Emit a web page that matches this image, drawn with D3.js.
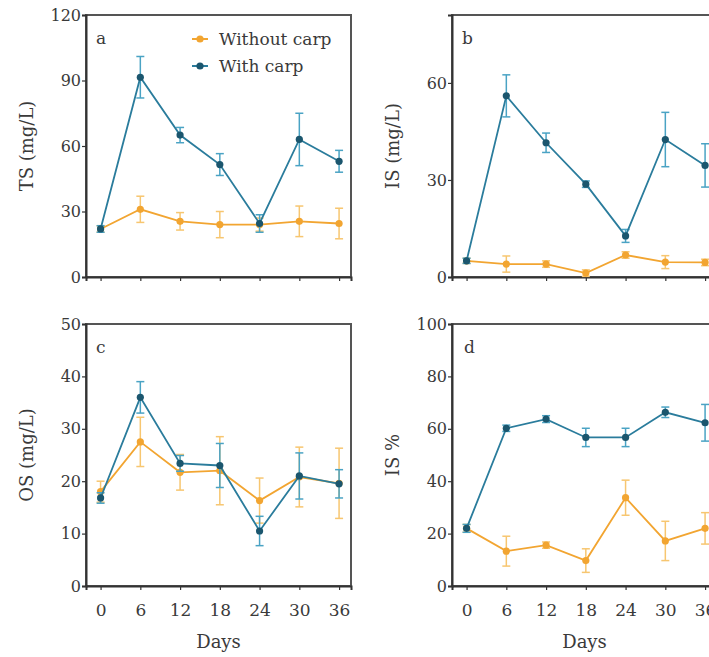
<!DOCTYPE html>
<html>
<head>
<meta charset="utf-8">
<script src="https://cdn.jsdelivr.net/npm/d3@7"></script>
<style>
  body { margin: 0; background: #fff; }
  svg text { font-family: "DejaVu Serif", "Liberation Serif", serif; fill: #3a3a3a; }
</style>
</head>
<body>
<svg width="709" height="657"></svg>
<script>
// sampling days
const days = [0, 6, 12, 18, 24, 30, 36];

// panel a: TS (mg/L)
const tsWithout = [22, 31, 25.5, 24, 24, 25.5, 24.5];
const tsWithoutErr = [1.5, 6, 4, 6, 3, 7, 7];
const tsWith = [22, 91.5, 65, 51.5, 24.5, 63, 53];
const tsWithErr = [1.5, 9.5, 3.5, 5, 4, 12, 5];

// panel b: IS (mg/L)
const isWithout = [5, 4, 4, 1.2, 6.8, 4.6, 4.5];
const isWithoutErr = [0.8, 2.5, 1, 1, 1, 2, 1];
const isWith = [5, 56, 41.5, 28.7, 12.7, 42.5, 34.5];
const isWithErr = [0.8, 6.5, 3, 1, 2, 8.4, 6.7];

// panel c: OS (mg/L)
const osWithout = [18, 27.5, 21.7, 22, 16.3, 20.8, 19.6];
const osWithoutErr = [2, 4.7, 3.4, 6.5, 4.3, 5.7, 6.7];
const osWith = [16.8, 36, 23.4, 23, 10.5, 21, 19.5];
const osWithErr = [1, 3, 1.5, 4.2, 2.8, 4.4, 2.7];

// panel d: IS %
const pctWithout = [22, 13.3, 15.6, 9.7, 33.7, 17.2, 22];
const pctWithoutErr = [1.5, 5.7, 1.2, 4.5, 6.7, 7.5, 6];
const pctWith = [22, 60.2, 63.7, 56.7, 56.7, 66.3, 62.3];
const pctWithErr = [1.5, 1.2, 1.3, 3.5, 3.5, 2, 7];

const orange = '#f2a531', orangeLight = '#f7c670';
const blue = '#2a7c9c', blueDark = '#1b566e', blueLight = '#4aa3c4';

const svg = d3.select('svg');
const pw = 265, ph = 262;

const panels = [
  { x: 86, y: 15, letter: 'a', label: 'TS (mg/L)', max: 120, ticks: [0, 30, 60, 90, 120],
    w: tsWithout, we: tsWithoutErr, c: tsWith, ce: tsWithErr, legend: true, xlabels: false },
  { x: 452, y: 15, letter: 'b', label: 'IS (mg/L)', max: 81, ticks: [0, 30, 60],
    w: isWithout, we: isWithoutErr, c: isWith, ce: isWithErr, xlabels: false },
  { x: 86, y: 324, letter: 'c', label: 'OS (mg/L)', max: 50, ticks: [0, 10, 20, 30, 40, 50],
    w: osWithout, we: osWithoutErr, c: osWith, ce: osWithErr, xlabels: true },
  { x: 452, y: 324, letter: 'd', label: 'IS %', max: 100, ticks: [0, 20, 40, 60, 80, 100],
    w: pctWithout, we: pctWithoutErr, c: pctWith, ce: pctWithErr, xlabels: true }
];

panels.forEach((p) => {
  const g = svg.append('g').attr('transform', `translate(${p.x},${p.y})`);
  const x = d3.scaleLinear().domain([-2.2, 37.8]).range([0, pw]);
  const y = d3.scaleLinear().domain([0, p.max]).range([ph, 0]);

  // frame
  g.append('rect')
    .attr('width', pw).attr('height', ph)
    .attr('fill', 'none').attr('stroke', '#555').attr('stroke-width', 2);

  const yAxis = g.append('g')
    .call(d3.axisLeft(y).tickValues(p.ticks).tickSize(4).tickPadding(1));
  yAxis.select('.domain').attr('stroke', '#333').attr('stroke-width', 2);
  yAxis.selectAll('.tick line').attr('stroke', '#333').attr('stroke-width', 1.2);
  yAxis.selectAll('.tick text').attr('font-size', 16).attr('fill', '#3a3a3a')
    .style('font-family', '"DejaVu Serif", serif');

  const xAxis = g.append('g').attr('transform', `translate(0,${ph})`)
    .call(d3.axisBottom(x).tickValues(days).tickSize(4).tickPadding(14)
      .tickFormat(p.xlabels ? d3.format('d') : ''));
  xAxis.select('.domain').attr('stroke', '#333').attr('stroke-width', 2);
  xAxis.selectAll('.tick line').attr('stroke', '#333').attr('stroke-width', 1.2);
  xAxis.selectAll('.tick text').attr('font-size', 17).attr('fill', '#3a3a3a')
    .style('font-family', '"DejaVu Serif", serif');

  if (p.xlabels) {
    g.append('text')
      .attr('x', pw / 2).attr('y', ph + 62)
      .attr('text-anchor', 'middle').attr('font-size', 18)
      .text('Days');
  }

  g.append('text')
    .attr('transform', `translate(-53,${ph / 2}) rotate(-90)`)
    .attr('text-anchor', 'middle').attr('font-size', 18)
    .text(p.label);

  g.append('text')
    .attr('x', p.letter === 'd' ? 12 : 10).attr('y', 29)
    .attr('font-size', 17).text(p.letter);

  const series = [
    { v: p.w, e: p.we, line: orange, err: orangeLight, dot: orange },
    { v: p.c, e: p.ce, line: blue, err: blueLight, dot: blueDark }
  ];

  series.forEach((s) => {
    const pts = days.map((d, i) => ({ d, v: s.v[i], e: s.e[i] }));
    const eb = g.append('g').selectAll('g').data(pts).enter().append('g')
      .attr('stroke', s.err).attr('stroke-width', 1.5);
    eb.append('line')
      .attr('x1', (d) => x(d.d)).attr('x2', (d) => x(d.d))
      .attr('y1', (d) => y(d.v - d.e)).attr('y2', (d) => y(d.v + d.e));
    eb.append('line')
      .attr('x1', (d) => x(d.d) - 4).attr('x2', (d) => x(d.d) + 4)
      .attr('y1', (d) => y(d.v + d.e)).attr('y2', (d) => y(d.v + d.e));
    eb.append('line')
      .attr('x1', (d) => x(d.d) - 4).attr('x2', (d) => x(d.d) + 4)
      .attr('y1', (d) => y(d.v - d.e)).attr('y2', (d) => y(d.v - d.e));

    g.append('path').datum(pts)
      .attr('fill', 'none').attr('stroke', s.line).attr('stroke-width', 1.8)
      .attr('d', d3.line().x((d) => x(d.d)).y((d) => y(d.v)));

    g.append('g').selectAll('circle').data(pts).enter().append('circle')
      .attr('cx', (d) => x(d.d)).attr('cy', (d) => y(d.v))
      .attr('r', 3.6).attr('fill', s.dot);
  });

  if (p.legend) {
    const items = [
      { name: 'Without carp', line: orange, dot: orange },
      { name: 'With carp', line: blue, dot: blueDark }
    ];
    const lg = g.append('g').attr('transform', 'translate(106,24)');
    items.forEach((it, i) => {
      const r = lg.append('g').attr('transform', `translate(0,${i * 27})`);
      r.append('line').attr('x1', 0).attr('x2', 16)
        .attr('stroke', it.line).attr('stroke-width', 2);
      r.append('circle').attr('cx', 8).attr('r', 3.6).attr('fill', it.dot);
      r.append('text').attr('x', 27).attr('y', 6)
        .attr('font-size', 17).text(it.name);
    });
  }
});
</script>
</body>
</html>
